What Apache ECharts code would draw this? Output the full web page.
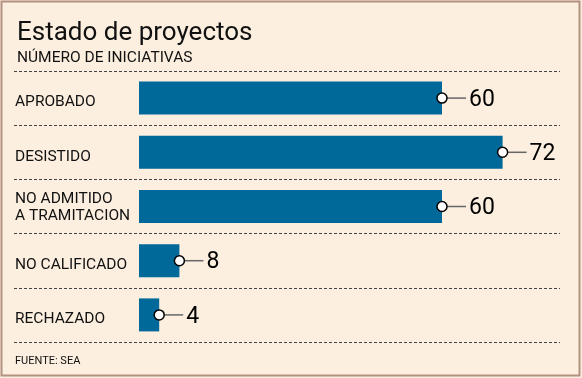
<!DOCTYPE html>
<html><head><meta charset="utf-8">
<script src="https://cdn.jsdelivr.net/npm/echarts@6/dist/echarts.min.js"></script>
<style>
html,body{margin:0;padding:0;background:#FCEFDF;}
#c{width:582px;height:378px;}
</style></head>
<body><div id="c"></div>
<script>
var categories = ['APROBADO','DESISTIDO','NO ADMITIDO\nA TRAMITACION','NO CALIFICADO','RECHAZADO'];
var values = [60, 72, 60, 8, 4];
var titleText = 'Estado de proyectos';
var subtitleText = 'NÚMERO DE INICIATIVAS';
var sourceText = 'FUENTE: SEA';

var FONT = 'Roboto, "DejaVu Sans", sans-serif';
var chart = echarts.init(document.getElementById('c'));
chart.setOption({
  backgroundColor: '#FCEFDF',
  animation: false,
  title: [
    {text: titleText, left: 17, top: 20, padding: 0, textStyle: {fontFamily: FONT, fontSize: 26, fontWeight: 'normal', color: '#111'}},
    {text: subtitleText, left: 17, top: 50, padding: 0, textStyle: {fontFamily: FONT, fontSize: 15.5, fontWeight: 'normal', color: '#111'}},
    {text: sourceText, left: 15, top: 356, padding: 0, textStyle: {fontFamily: FONT, fontSize: 11, fontWeight: 'normal', color: '#111'}}
  ],
  graphic: [{type: 'rect', shape: {x: 1.5, y: 1.5, width: 578, height: 374}, style: {fill: 'none', stroke: '#B39282', lineWidth: 2}, silent: true}],
  grid: [
    {left: 139, width: 404, top: 71, height: 271},
    {left: 14, right: 22, top: 71, height: 271}
  ],
  xAxis: [
    {gridIndex: 0, type: 'value', min: 0, max: 80, show: false},
    {gridIndex: 1, type: 'value', min: 0, max: 1, show: false}
  ],
  yAxis: [
    {gridIndex: 0, type: 'category', data: categories, inverse: true,
     axisLine: {show: false}, axisTick: {show: false}, splitLine: {show: false},
     axisLabel: {align: 'left', margin: 124, fontFamily: FONT, fontSize: 15.5, color: '#111', lineHeight: 17, padding: [3, 0, 0, 0],
       formatter: function(v){ return v.indexOf('\n') >= 0 ? v : '{s|' + v + '}'; },
       rich: {s: {fontFamily: FONT, fontSize: 15.5, color: '#111', lineHeight: 17, padding: [6, 0, 0, 0]}}}},
    {gridIndex: 1, type: 'category', data: categories, inverse: true,
     axisLine: {show: false}, axisTick: {show: false}, axisLabel: {show: false},
     splitLine: {show: true, lineStyle: {color: '#444', type: [3, 2], width: 1}}}
  ],
  series: [
    {type: 'bar', xAxisIndex: 0, yAxisIndex: 0, data: values, barWidth: 33, z: 2,
     itemStyle: {color: '#00699A'}, silent: true},
    {type: 'custom', xAxisIndex: 0, yAxisIndex: 0, z: 5, clip: false,
     data: values.map(function(v, i){ return [v, i]; }),
     encode: {x: 0, y: 1},
     renderItem: function(params, api){
       var p = api.coord([api.value(0), api.value(1)]);
       return {type: 'group', children: [
         {type: 'line', z2: 1, shape: {x1: p[0], y1: p[1], x2: p[0] + 24, y2: p[1]}, style: {stroke: '#666', lineWidth: 1.5}},
         {type: 'circle', z2: 2, shape: {cx: p[0], cy: p[1], r: 5}, style: {fill: '#fff', stroke: '#000', lineWidth: 1.5}},
         {type: 'text', z2: 3, x: p[0] + 27, y: p[1] + 2, style: {text: String(api.value(0)), fontFamily: FONT, fontSize: 23, fill: '#000', verticalAlign: 'middle', align: 'left'}}
       ]};
     }}
  ]
});
</script></body></html>
